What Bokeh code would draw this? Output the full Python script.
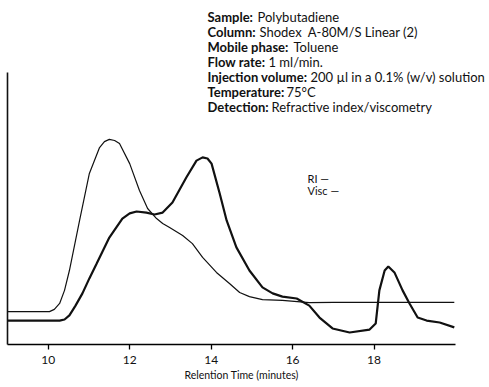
from bokeh.plotting import figure
from bokeh.models import FixedTicker, Title, ColumnDataSource, Range1d
from bokeh.core.properties import value
from bokeh.embed import file_html
from bokeh.resources import INLINE

# ---------------- data ----------------
ri_time = [9.00, 10.28, 10.40, 10.52, 10.67, 10.84, 11.01, 11.19, 11.50, 11.82, 12.00,
           12.17, 12.41, 12.61, 12.81, 13.05, 13.39, 13.64, 13.79, 13.91, 14.01, 14.21,
           14.38, 14.62, 14.94, 15.26, 15.51, 15.75, 16.10, 16.41, 16.66, 16.98, 17.40,
           17.89, 18.04, 18.13, 18.26, 18.35, 18.50, 18.70, 18.87, 19.07, 19.29, 19.61, 19.97]
ri_signal = [8.8, 8.8, 9.2, 10.7, 14.3, 18.8, 24.3, 29.8, 39.3, 46.3, 48.2,
             48.9, 48.5, 47.8, 48.5, 52.2, 61.4, 67.6, 68.8, 68.4, 66.5, 55.5,
             45.6, 35.7, 27.2, 21.0, 18.8, 17.6, 16.9, 14.3, 9.9, 5.9, 4.4,
             5.5, 7.7, 19.9, 27.2, 28.7, 26.5, 19.9, 15.1, 9.9, 8.8, 8.1, 6.3]

visc_time = [9.00, 10.03, 10.15, 10.28, 10.40, 10.52, 10.77, 11.01, 11.26, 11.38, 11.50,
             11.63, 11.75, 12.00, 12.24, 12.44, 12.66, 12.81, 12.98, 13.30, 13.54, 13.79,
             14.13, 14.45, 14.70, 14.94, 15.26, 15.75, 16.41, 17.00, 18.00, 19.00, 19.97]
visc_signal = [12.1, 12.1, 12.9, 15.1, 19.9, 27.2, 45.6, 62.9, 72.4, 74.6, 75.4,
               75.0, 73.9, 66.5, 56.6, 50.0, 46.3, 44.5, 43.0, 40.1, 37.1, 32.0,
               26.5, 22.4, 19.1, 17.6, 16.5, 16.2, 15.4, 15.5, 15.5, 15.5, 15.5]

tick_values = [10, 12, 14, 16, 18]
x_axis_title = "Relention Time (minutes)"

info_labels = ["Sample:", "Column:", "Mobile phase:", "Flow rate:",
               "Injection volume:", "Temperature:", "Detection:"]
info_values = ["Polybutadiene", "Shodex\u00a0\u00a0A-80M/S Linear (2)", "Toluene", "1 ml/min.",
               "200 \u00b5l in a 0.1% (w/v) solution", "75\u00b0C",
               "Refractive index/viscometry"]
legend_labels = ["RI \u2014", "Visc \u2014"]

# ---------------- layout constants ----------------
FONT = "Lato"
PX_PER_MIN = 40.73
PX_PER_UNIT = 2.72
LEFT = 7
FRAME_W = 482
FRAME_H = 344
X0 = 9.0
X1 = X0 + FRAME_W / PX_PER_MIN
Y1 = FRAME_H / PX_PER_UNIT


def px_to_x(px):
    return X0 + (px - LEFT) / PX_PER_MIN


def py_to_y(py):
    return (FRAME_H - py) / PX_PER_UNIT


p = figure(frame_width=FRAME_W, frame_height=FRAME_H,
           x_range=Range1d(X0, X1), y_range=Range1d(0, Y1),
           output_backend="svg", toolbar_location=None,
           min_border_left=LEFT, min_border_right=0, min_border_top=0, min_border_bottom=0)
p.outline_line_color = None
p.xgrid.visible = False
p.ygrid.visible = False
p.background_fill_color = "white"
p.border_fill_color = "white"

# x axis
xa = p.xaxis[0]
xa.ticker = FixedTicker(ticks=tick_values, minor_ticks=[])
xa.bounds = (9, 20)
xa.axis_line_width = 1.6
xa.axis_line_color = "black"
xa.major_tick_out = 5
xa.major_tick_in = 0
xa.major_tick_line_width = 1.3
xa.major_tick_line_color = "black"
xa.minor_tick_out = 0
xa.minor_tick_in = 0
xa.major_label_standoff = 6
xa.major_label_text_font = FONT
xa.major_label_text_font_size = "12px"
xa.major_label_text_color = "#111111"

# y axis (bare line, no ticks)
ya = p.yaxis[0]
ya.ticker = FixedTicker(ticks=[])
ya.bounds = (0, 100)
ya.axis_line_width = 1.6
ya.axis_line_color = "#111111"
ya.major_tick_out = 0
ya.major_tick_in = 0
ya.minor_tick_out = 0
ya.minor_tick_in = 0
ya.major_label_standoff = 0
ya.major_label_text_font_size = "0px"

p.add_layout(Title(text=x_axis_title, align="left", offset=177, standoff=1,
                   text_font=FONT, text_font_size="10.5px", text_font_style="normal",
                   text_color="#111111"), "below")

# curves
p.line(visc_time, visc_signal, line_color="#111111", line_width=1.2)
p.line(ri_time, ri_signal, line_color="#111111", line_width=2.2)

# info block
TXT_X = px_to_x(207)
top_px, step_px = 16.5, 15.0
ys = [py_to_y(top_px + i * step_px) for i in range(len(info_labels))]
offsets = [50, 52, 86, 61, 103, 79, 64]
src = ColumnDataSource(dict(x=[TXT_X] * len(info_labels), y=ys, lab=info_labels,
                            val=info_values, off=offsets))
p.text(x="x", y="y", text="lab", source=src, text_font=value(FONT),
       text_font_size="13px", text_font_style="bold", text_baseline="middle",
       text_color="#111111")
p.text(x="x", y="y", text="val", x_offset="off", source=src, text_font=value(FONT),
       text_font_size="13px", text_baseline="middle", text_color="#111111")

# legend-like text
LEG_X = px_to_x(307)
leg_ys = [py_to_y(v) for v in (178, 190)]
p.text(x=[LEG_X] * 2, y=leg_ys, text=legend_labels, text_font=value(FONT),
       text_font_size="11px", text_baseline="middle", text_color="#111111")

open("out.html", "w").write(file_html(p, INLINE))
